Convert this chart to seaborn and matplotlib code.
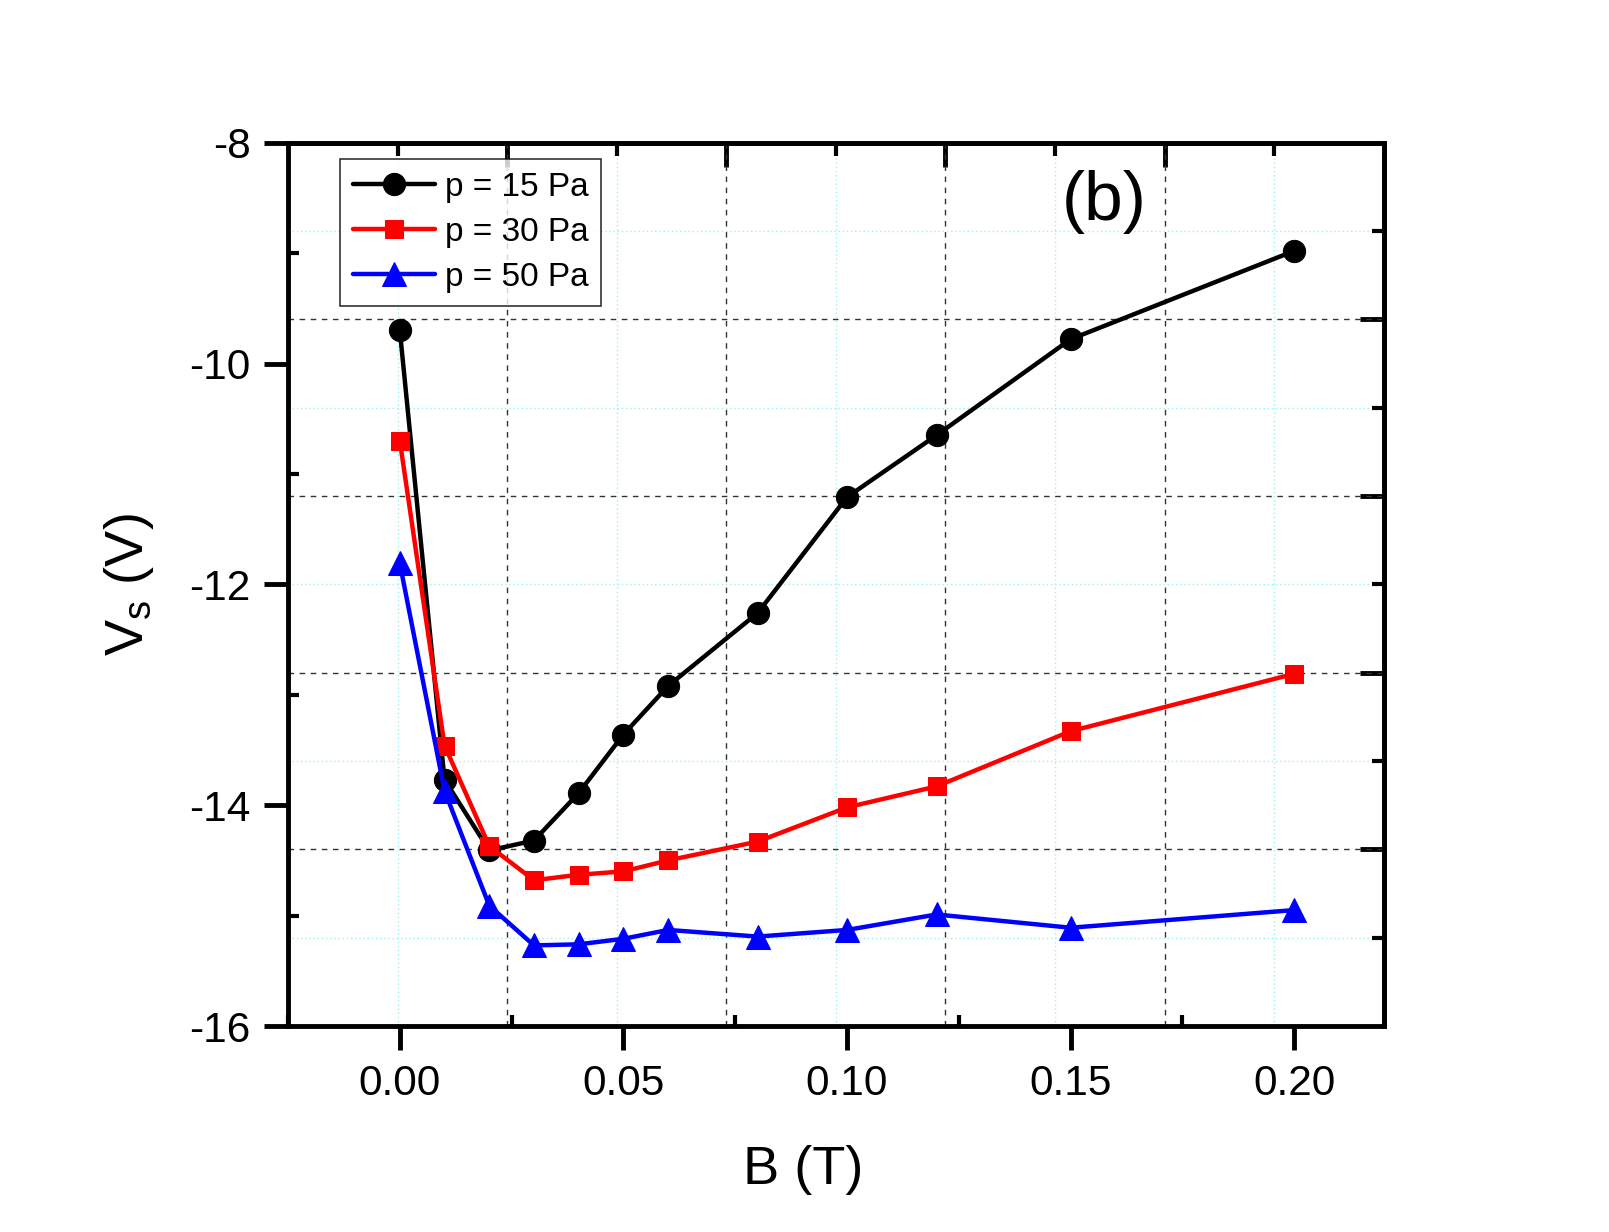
import numpy as np
import pandas as pd
import matplotlib
matplotlib.use("Agg")
import matplotlib.pyplot as plt
import seaborn as sns
from matplotlib.ticker import MultipleLocator, FixedLocator, NullFormatter

# ---- data ----
B = [0.00, 0.01, 0.02, 0.03, 0.04, 0.05, 0.06, 0.08, 0.10, 0.12, 0.15, 0.20]
vs_15 = [-9.70, -13.77, -14.41, -14.32, -13.89, -13.36, -12.92, -12.26, -11.21, -10.65, -9.78, -8.98]
vs_30 = [-10.70, -13.46, -14.37, -14.68, -14.63, -14.60, -14.50, -14.33, -14.02, -13.83, -13.33, -12.81]
vs_50 = [-11.81, -13.87, -14.91, -15.27, -15.26, -15.21, -15.13, -15.19, -15.13, -14.99, -15.11, -14.95]
labels = ["p = 15 Pa", "p = 30 Pa", "p = 50 Pa"]
xticks = [0.00, 0.05, 0.10, 0.15, 0.20]
yticks = [-16, -14, -12, -10, -8]

sns.set_style("white")
plt.rcParams['font.family'] = ['Liberation Sans', 'DejaVu Sans']
plt.rcParams['mathtext.fontset'] = 'custom'
plt.rcParams['mathtext.rm'] = 'Liberation Sans'
plt.rcParams['mathtext.it'] = 'Liberation Sans'
plt.rcParams['text.color'] = 'black'
plt.rcParams['axes.labelcolor'] = 'black'
plt.rcParams['xtick.color'] = 'black'
plt.rcParams['ytick.color'] = 'black'

fig = plt.figure(figsize=(16.09, 12.32), dpi=100)
ax = fig.add_axes([0.179, 0.1672, 0.681, 0.717])

xlim = (-0.025, 0.22)
ylim = (-16, -8)
ax.set_xlim(*xlim)
ax.set_ylim(*ylim)

# Origin-style grid: 5 equal divisions of the frame
gx = np.linspace(xlim[0], xlim[1], 6)
gy = np.linspace(ylim[0], ylim[1], 6)
gx_min = (gx[:-1] + gx[1:]) / 2
gy_min = (gy[:-1] + gy[1:]) / 2
for v in gx_min:
    ax.axvline(v, color='#9fefef', lw=1.0, ls=(0, (1, 2)), zorder=0)
for v in gy_min:
    ax.axhline(v, color='#9fefef', lw=1.0, ls=(0, (1, 2)), zorder=0)
for v in gx[1:-1]:
    ax.axvline(v, color='#333333', lw=1.0, ls=(0, (4, 4)), zorder=0.5)
for v in gy[1:-1]:
    ax.axhline(v, color='#333333', lw=1.0, ls=(0, (4, 4)), zorder=0.5)

series = [vs_15, vs_30, vs_50]
colors = ['black', '#ff0000', '#0000ff']
markers = ['o', 's', '^']
msizes = [16, 13, 17]
for vals, lab, c, m, ms in zip(series, labels, colors, markers, msizes):
    df = pd.DataFrame({'B': B, 'Vs': vals})
    sns.lineplot(data=df, x='B', y='Vs', ax=ax, color=c, marker=m, markersize=ms,
                 markeredgecolor=c, markerfacecolor=c, lw=3.2, label=lab, zorder=3,
                 clip_on=False)

ax.set_xticks(xticks)
ax.set_xticklabels([f"{t:.2f}" for t in xticks])
ax.set_yticks(yticks)
ax.set_yticklabels([f"{t:d}" for t in yticks])
ax.xaxis.set_minor_locator(MultipleLocator(0.025))
ax.yaxis.set_minor_locator(MultipleLocator(1))
ax.tick_params(which='major', direction='out', length=17, width=3.5, labelsize=30.5,
               pad=10, top=False, right=False, bottom=True, left=True, colors='black')
ax.tick_params(which='minor', direction='in', length=8, width=3, top=False, right=False,
               bottom=True, left=True)

for s in ax.spines.values():
    s.set_linewidth(3.5)
    s.set_color('black')

# top / right inward ticks at the grid divisions
secx = ax.secondary_xaxis('top')
secx.xaxis.set_major_locator(FixedLocator(gx[1:-1]))
secx.xaxis.set_minor_locator(FixedLocator(gx_min))
secx.xaxis.set_major_formatter(NullFormatter())
secx.tick_params(which='major', direction='in', length=17, width=3.5, colors='black')
secx.tick_params(which='minor', direction='in', length=9, width=3, colors='black')
secx.spines['top'].set_linewidth(3.5)
secy = ax.secondary_yaxis('right')
secy.yaxis.set_major_locator(FixedLocator(gy[1:-1]))
secy.yaxis.set_minor_locator(FixedLocator(gy_min))
secy.yaxis.set_major_formatter(NullFormatter())
secy.tick_params(which='major', direction='in', length=17, width=3.5, colors='black')
secy.tick_params(which='minor', direction='in', length=9, width=3, colors='black')
secy.spines['right'].set_linewidth(3.5)

ax.set_xlabel("B (T)", fontsize=39, labelpad=30)
ax.xaxis.label.set_x(0.47)
ax.set_ylabel(r"V$_\mathregular{s}$ (V)", fontsize=39, labelpad=24)

leg = ax.legend(loc='upper left', bbox_to_anchor=(0.047, 0.982), fontsize=24,
                frameon=True, fancybox=False, shadow=False, handlelength=2.45,
                borderpad=0.4, labelspacing=0.42, handletextpad=0.3, borderaxespad=0)
leg.get_frame().set_edgecolor('black')
leg.get_frame().set_linewidth(1.2)
leg.set_zorder(5)

ax.text(0.745, 0.933, "(b)", transform=ax.transAxes, fontsize=50, ha='center', va='center')

fig.savefig("out.png", dpi=100)
